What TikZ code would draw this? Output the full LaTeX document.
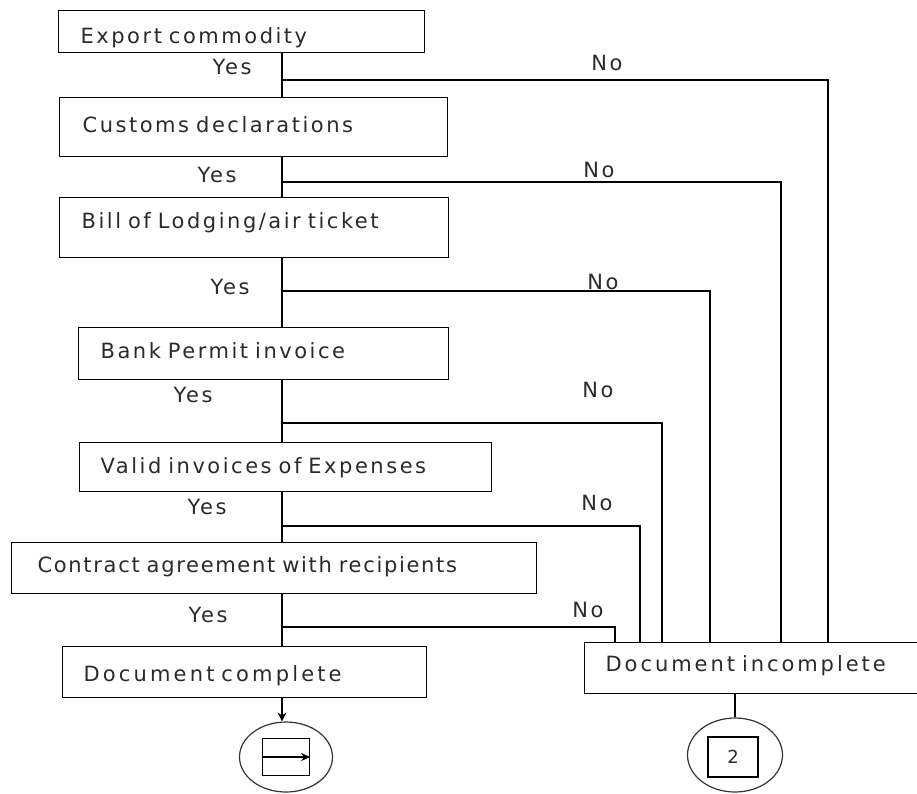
\documentclass[tikz,border=0pt]{standalone}
\usepackage{fontspec}
\setmainfont{DejaVu Sans}[LetterSpace=12]
\usetikzlibrary{shapes.geometric,arrows.meta}
\definecolor{txt}{HTML}{2A2A2A}
\begin{document}
\begin{tikzpicture}[x=1pt,y=-1pt,line width=1.3pt,
  box/.style={draw, rectangle, anchor=north west, align=left, inner ysep=0pt, text height=15.3pt, text depth=0pt, font=\fontsize{21}{24}\selectfont, text=txt},
  lbl/.style={font=\fontsize{21}{24}\selectfont, text=txt, inner sep=0pt},
  conn/.style={draw, line width=1.3pt},
  oval/.style={draw, ellipse, line width=1.2pt, draw=black!80, inner sep=0pt},
  sqr/.style={draw, rectangle, line width=1.3pt, inner sep=0pt}]
\useasboundingbox (0,0) rectangle (917,793);

% boxes
\node[box, minimum width=366pt, minimum height=42pt, inner xsep=22pt, text width=322pt] (b1) at (58,10) {\raisebox{-4.5pt}{Export commodity}};
\node[box, minimum width=388pt, minimum height=59pt, inner xsep=23pt, text width=342pt] (b2) at (59,97) {\raisebox{2.5pt}{Customs declarations}};
\node[box, minimum width=389pt, minimum height=60pt, inner xsep=22pt, text width=345pt] (b3) at (59,197) {\raisebox{7pt}{Bill of Lodging/air ticket}};
\node[box, minimum width=370pt, minimum height=52pt, inner xsep=22pt, text width=326pt] (b4) at (78,327) {\raisebox{3pt}{Bank Permit invoice}};
\node[box, minimum width=412pt, minimum height=49pt, inner xsep=21pt, text width=370pt] (b5) at (79,442) {\raisebox{1pt}{Valid invoices of Expenses}};
\node[box, minimum width=525pt, minimum height=51pt, inner xsep=26pt, text width=473pt] (b6) at (11,542) {\addfontfeatures{LetterSpace=8}\raisebox{3.5pt}{Contract agreement with recipients}};
\node[box, minimum width=364pt, minimum height=51pt, inner xsep=21pt, text width=322pt] (b7) at (62,646) {\addfontfeatures{LetterSpace=15}\raisebox{-1.5pt}{Document complete}};
\node[box, minimum width=340pt, minimum height=51pt, inner xsep=21pt, text width=298pt] (b8) at (584,642) {\addfontfeatures{LetterSpace=14}\raisebox{4.5pt}{Document incomplete}};

% spine and drop columns
\coordinate (sp) at (282,0);
\coordinate (j1) at (282,80);
\coordinate (j2) at (282,182);
\coordinate (j3) at (282,291);
\coordinate (j4) at (282,423);
\coordinate (j5) at (282,526);
\coordinate (j6) at (282,627);
\coordinate (d1) at (828,0);
\coordinate (d2) at (781,0);
\coordinate (d3) at (710,0);
\coordinate (d4) at (662,0);
\coordinate (d5) at (640,0);
\coordinate (d6) at (615,0);

% end circles
\node[oval, minimum width=93pt, minimum height=70pt] (c1) at (286,757) {};
\node[sqr, minimum width=47pt, minimum height=37pt] (s1) at (c1.center) {};
\node[oval, minimum width=95pt, minimum height=74pt] (c2) at (735,755) {};
\node[sqr, minimum width=50pt, minimum height=40pt, font=\fontsize{18}{20}\selectfont, text=txt] (s2) at (733,757) {2};

% vertical flow
\draw[conn] (b1.south -| sp) -- (b2.north -| sp);
\draw[conn] (b2.south -| sp) -- (b3.north -| sp);
\draw[conn] (b3.south -| sp) -- (b4.north -| sp);
\draw[conn] (b4.south -| sp) -- (b5.north -| sp);
\draw[conn] (b5.south -| sp) -- (b6.north -| sp);
\draw[conn] (b6.south -| sp) -- (b7.north -| sp);
\draw[conn, -{Stealth[length=9pt,width=9pt]}] (b7.south -| sp) -- (c1.north -| sp);
\draw[conn] (b8.south -| c2) -- (c2.north);
\draw[conn, -{Stealth[length=9pt,width=8pt]}] (s1.west) -- (s1.east);

% No branches
\draw[conn] (j1) -| (d1 |- b8.north);
\draw[conn] (j2) -| (d2 |- b8.north);
\draw[conn] (j3) -| (d3 |- b8.north);
\draw[conn] (j4) -| (d4 |- b8.north);
\draw[conn] (j5) -| (d5 |- b8.north);
\draw[conn] (j6) -| (d6 |- b8.north);

% labels
\node[lbl] (y1) at (232,67) {Yes};
\node[lbl] (y2) at (217,175) {Yes};
\node[lbl] (y3) at (230,287) {Yes};
\node[lbl] (y4) at (193,395) {Yes};
\node[lbl] (y5) at (207,507) {Yes};
\node[lbl] (y6) at (208,615) {Yes};
\node[lbl] (n1) at (607,63) {No};
\node[lbl] (n2) at (599,170) {No};
\node[lbl] (n3) at (603,282) {No};
\node[lbl] (n4) at (598,390) {No};
\node[lbl] (n5) at (597,503) {No};
\node[lbl] (n6) at (588,610) {No};
\end{tikzpicture}
\end{document}
